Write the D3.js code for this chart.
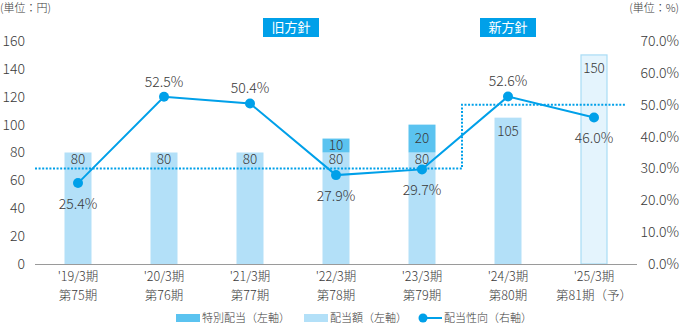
<!DOCTYPE html>
<html><head><meta charset="utf-8">
<script src="https://cdn.jsdelivr.net/npm/d3@7"></script>
<style>
body{margin:0;background:#fff;}
text{font-family:"Noto Sans CJK JP","Noto Sans",sans-serif;fill:#3a3a3a;font-weight:300;}
</style></head>
<body>
<svg id="c" width="680" height="325"></svg>
<script>
const periods = ["'19/3期","'20/3期","'21/3期","'22/3期","'23/3期","'24/3期","'25/3期"];
const terms = ["第75期","第76期","第77期","第78期","第79期","第80期","第81期（予）"];
const regular = [80,80,80,80,80,105,150];
const special = [0,0,0,10,20,0,0];
const forecast = [false,false,false,false,false,false,true];
const payout = [25.4,52.5,50.4,27.9,29.7,52.6,46.0];
const payoutLabelPos = ["below","above","above","below","below","above","below"];
const leftTicks = [0,20,40,60,80,100,120,140,160];
const rightTicks = [0,10,20,30,40,50,60,70];
const oldPolicy = 30, newPolicy = 50;

const svg = d3.select("#c");
const x = d3.scaleBand().domain(periods).range([35,637]);
const yL = d3.scaleLinear().domain([0,160]).range([264,41]);
const yR = d3.scaleLinear().domain([0,70]).range([264,41]);
const barW = 27;
const cLine = "#00a0e9", cReg = "#b3e0f8", cSpec = "#5bc3f0", cFc = "#e4f4fd";

// units
svg.append("text").attr("x",0).attr("y",12).attr("font-size",11).text("(単位：円)");
svg.append("text").attr("x",679).attr("y",12).attr("font-size",11).attr("text-anchor","end").text("(単位：%)");

// left axis
const gl = svg.append("g").attr("transform","translate(25,0)")
  .call(d3.axisLeft(yL).tickValues(leftTicks).tickSize(0).tickPadding(0));
gl.select(".domain").remove();
gl.selectAll("text").attr("font-size",14).attr("fill","#3a3a3a").style("font-family",'"Noto Sans CJK JP",sans-serif').style("font-weight",300);
// right axis
const gr = svg.append("g").attr("transform","translate(679,0)")
  .call(d3.axisLeft(yR).tickValues(rightTicks).tickFormat(d=>d.toFixed(1)+"%").tickSize(0).tickPadding(0));
gr.select(".domain").remove();
gr.selectAll("text").attr("font-size",14).attr("fill","#3a3a3a").style("font-family",'"Noto Sans CJK JP",sans-serif').style("font-weight",300);

// bars
const cx = d => x(d) + x.bandwidth()/2;
periods.forEach((p,i)=>{
  const xb = cx(p)-barW/2;
  svg.append("rect").attr("x",forecast[i]?xb+0.5:xb).attr("width",forecast[i]?barW-1:barW)
    .attr("y",yL(regular[i])).attr("height",yL(0)-yL(regular[i]))
    .attr("fill",forecast[i]?cFc:cReg)
    .attr("stroke",forecast[i]?"#a9dcf5":"none").attr("stroke-width",1.2);
  if(special[i]>0){
    svg.append("rect").attr("x",xb).attr("width",barW)
      .attr("y",yL(regular[i]+special[i])).attr("height",yL(regular[i])-yL(regular[i]+special[i]))
      .attr("fill",cSpec);
    svg.append("text").attr("x",cx(p)).attr("y",(yL(regular[i])+yL(regular[i]+special[i]))/2 - 0.5)
      .attr("dy","0.36em").attr("text-anchor","middle").attr("font-size",13.5).text(special[i]);
  }
  const off = regular[i]===80 ? 6.5 : 13;
  svg.append("text").attr("x",cx(p)).attr("y",yL(regular[i])+off).attr("dy","0.36em")
    .attr("text-anchor","middle").attr("font-size",13.5).text(regular[i]);
});

// axis baseline
svg.append("line").attr("x1",35).attr("x2",637).attr("y1",yL(0)+0.5).attr("y2",yL(0)+0.5)
  .attr("stroke","#9a9a9a").attr("stroke-width",1);

// policy dotted line
const stepX = (cx(periods[4])+cx(periods[5]))/2 - 3;
svg.append("path")
  .attr("d",`M35,${yR(oldPolicy)}H${stepX}V${yR(newPolicy)}H625`)
  .attr("fill","none").attr("stroke",cLine).attr("stroke-width",2).attr("stroke-dasharray","2,1.6");

// payout line
const line = d3.line().x((d,i)=>cx(periods[i])).y(d=>yR(d));
svg.append("path").attr("d",line(payout)).attr("fill","none").attr("stroke",cLine).attr("stroke-width",2);
payout.forEach((v,i)=>{
  svg.append("circle").attr("cx",cx(periods[i])).attr("cy",yR(v)).attr("r",5).attr("fill",cLine);
  const dy = payoutLabelPos[i]==="above" ? -15 : 21;
  svg.append("text").attr("x",cx(periods[i])).attr("y",yR(v)+dy).attr("dy","0.36em")
    .attr("text-anchor","middle").attr("font-size",14).text(v.toFixed(1)+"%");
});

// policy boxes
[["旧方針",263],["新方針",480]].forEach(([t,bx])=>{
  svg.append("rect").attr("x",bx).attr("y",18).attr("width",56).attr("height",19).attr("fill",cLine);
  svg.append("text").attr("x",bx+28).attr("y",27.5).attr("dy","0.36em").attr("text-anchor","middle")
    .attr("font-size",13).style("fill","#fff").style("font-weight",400).text(t);
});

// category labels
periods.forEach((p,i)=>{
  svg.append("text").attr("x",cx(p)).attr("y",281).attr("text-anchor","middle").attr("font-size",12.5).text(p);
  svg.append("text").attr("x",cx(p)).attr("y",299.5).attr("text-anchor","middle").attr("font-size",12.5).text(terms[i]);
});

// legend
const ly = 318;
svg.append("rect").attr("x",176).attr("y",ly-4).attr("width",24).attr("height",8).attr("fill",cSpec);
svg.append("text").attr("x",202).attr("y",ly).attr("dy","0.36em").attr("font-size",11).text("特別配当（左軸）");
svg.append("rect").attr("x",304).attr("y",ly-4).attr("width",24).attr("height",8).attr("fill",cReg);
svg.append("text").attr("x",330).attr("y",ly).attr("dy","0.36em").attr("font-size",11).text("配当額（左軸）");
svg.append("line").attr("x1",419).attr("x2",442).attr("y1",ly).attr("y2",ly).attr("stroke",cLine).attr("stroke-width",2);
svg.append("circle").attr("cx",423).attr("cy",ly).attr("r",4.5).attr("fill",cLine);
svg.append("text").attr("x",444).attr("y",ly).attr("dy","0.36em").attr("font-size",11).text("配当性向（右軸）");
</script>
</body></html>
